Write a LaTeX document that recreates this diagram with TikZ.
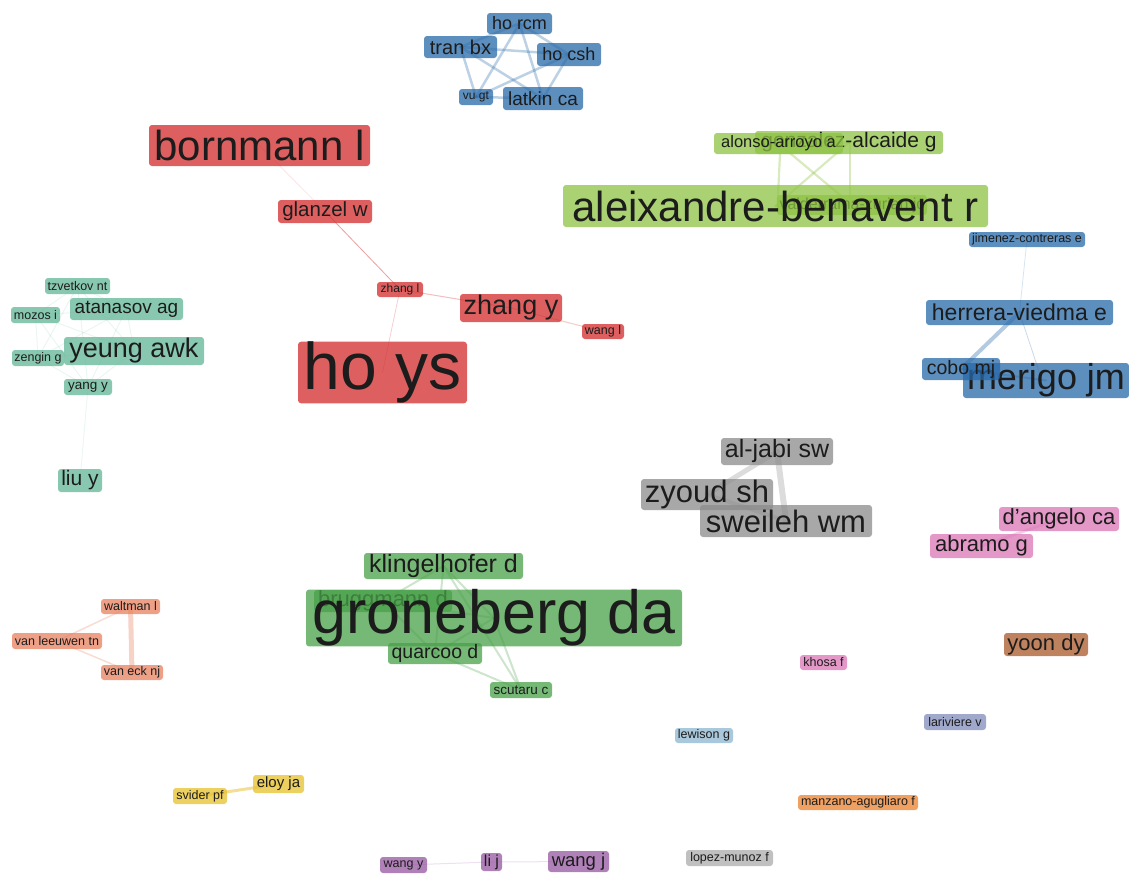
\documentclass[tikz,border=0pt]{standalone}
\usepackage{fontspec}
\setmainfont{Liberation Sans}
\usetikzlibrary{backgrounds}
\definecolor{cblue}{RGB}{38,104,168}
\definecolor{cred}{RGB}{211,42,42}
\definecolor{clgreen}{RGB}{142,195,68}
\definecolor{cteal}{RGB}{96,182,150}
\definecolor{cgray}{RGB}{139,139,139}
\definecolor{cpink}{RGB}{219,118,182}
\definecolor{cbrown}{RGB}{168,88,42}
\definecolor{cgreen}{RGB}{72,160,72}
\definecolor{csalmon}{RGB}{232,128,95}
\definecolor{cyellow}{RGB}{230,192,43}
\definecolor{cpurple}{RGB}{150,86,160}
\definecolor{cltblue}{RGB}{142,182,208}
\definecolor{clav}{RGB}{128,139,187}
\definecolor{corange}{RGB}{235,128,43}
\definecolor{cltgray}{RGB}{171,171,171}
\definecolor{ctext}{RGB}{28,28,28}
\tikzset{
  vb/.style={rounded corners=3pt, inner sep=0pt, fill opacity=0.75, text opacity=1, text=ctext},
  fs/.style={font=\fontsize{#1}{#1}\selectfont},
  ed/.style={line width=#1, line cap=round},
}
\begin{document}
\begin{tikzpicture}[x=1pt,y=-1pt]
\useasboundingbox (0,0) rectangle (1129,876);

% ---- top blue cluster
\node[vb, fill=cblue, minimum width=65, minimum height=21, fs=18] (horcm) at (519.5,23.5) {ho rcm};
\node[vb, fill=cblue, minimum width=73, minimum height=22, fs=20] (tranbx) at (460.5,47) {tran bx};
\node[vb, fill=cblue, minimum width=64, minimum height=23, fs=18] (hocsh) at (569,54.5) {ho csh};
\node[vb, fill=cblue, minimum width=34, minimum height=16, fs=12] (vugt) at (476,97) {vu gt};
\node[vb, fill=cblue, minimum width=80, minimum height=23, fs=19] (latkin) at (543,98.5) {latkin ca};

% ---- top light green cluster
\node[vb, fill=clgreen, minimum width=188, minimum height=23, fs=21] (gonzalez) at (849,142.5) {gonzalez-alcaide g};
\node[vb, fill=clgreen, minimum width=129, minimum height=21, fs=16.5] (alonso) at (778.5,143.5) {alonso-arroyo a};
\node[vb, fill=clgreen, minimum width=150, minimum height=20, fs=16] (valder) at (852,205) {valderrama-zurian jc};
\node[vb, fill=clgreen, minimum width=425, minimum height=42, fs=42] (aleix) at (775.5,206) {aleixandre-benavent r};

% ---- red cluster
\node[vb, fill=cred, minimum width=221, minimum height=41, fs=42] (bornmann) at (259.5,145.5) {bornmann l};
\node[vb, fill=cred, minimum width=94, minimum height=23, fs=20.5] (glanzel) at (325,211.5) {glanzel w};
\node[vb, fill=cred, minimum width=46, minimum height=15, fs=12] (zhangl) at (400,289.5) {zhang l};
\node[vb, fill=cred, minimum width=102, minimum height=28, fs=27] (zhangy) at (511,308) {zhang y};
\node[vb, fill=cred, minimum width=42, minimum height=15, fs=12.5] (wangl) at (603,331.5) {wang l};
\node[vb, fill=cred, minimum width=169, minimum height=61, fs=66] (hoys) at (382.5,372.5) {ho ys};

% ---- teal cluster
\node[vb, fill=cteal, minimum width=65, minimum height=16, fs=12.5] (tzvetkov) at (77.5,286) {tzvetkov nt};
\node[vb, fill=cteal, minimum width=113, minimum height=22, fs=19] (atanasov) at (126.5,309) {atanasov ag};
\node[vb, fill=cteal, minimum width=49, minimum height=16, fs=12.5] (mozos) at (35.5,315) {mozos i};
\node[vb, fill=cteal, minimum width=140, minimum height=28, fs=27] (yeung) at (134,351) {yeung awk};
\node[vb, fill=cteal, minimum width=52, minimum height=16, fs=12.5] (zengin) at (38,358) {zengin g};
\node[vb, fill=cteal, minimum width=48, minimum height=16, fs=13.5] (yangy) at (88,387) {yang y};
\node[vb, fill=cteal, minimum width=44, minimum height=23, fs=21] (liuy) at (80,480.5) {liu y};

% ---- right blue cluster
\node[vb, fill=cblue, minimum width=116, minimum height=15, fs=12.5] (jimenez) at (1027,239.5) {jimenez-contreras e};
\node[vb, fill=cblue, minimum width=187, minimum height=25, fs=23] (herrera) at (1019.5,312.5) {herrera-viedma e};
\node[vb, fill=cblue, minimum width=166, minimum height=35, fs=36] (merigo) at (1046,380.5) {merigo jm};
\node[vb, fill=cblue, minimum width=78, minimum height=22, fs=19.5] (cobo) at (961,369) {cobo mj};

% ---- gray cluster
\node[vb, fill=cgray, minimum width=112, minimum height=27, fs=25] (aljabi) at (777,451.5) {al-jabi sw};
\node[vb, fill=cgray, minimum width=132, minimum height=31, fs=31] (zyoud) at (707,494.5) {zyoud sh};
\node[vb, fill=cgray, minimum width=172, minimum height=32, fs=31] (sweileh) at (786,521) {sweileh wm};

% ---- pink / brown
\node[vb, fill=cpink, minimum width=120, minimum height=24, fs=22] (dangelo) at (1059,519) {d'angelo ca};
\node[vb, fill=cpink, minimum width=103, minimum height=24, fs=22] (abramo) at (981.5,546) {abramo g};
\node[vb, fill=cbrown, minimum width=84, minimum height=23, fs=22] (yoon) at (1046,644.5) {yoon dy};
\node[vb, fill=cpink, minimum width=47, minimum height=15, fs=12.5] (khosa) at (823.5,662.5) {khosa f};

% ---- bottom green cluster
\node[vb, fill=cgreen, minimum width=159, minimum height=26, fs=25] (kling) at (443.5,566) {klingelhofer d};
\node[vb, fill=cgreen, minimum width=138, minimum height=22, fs=22] (brugg) at (383,601) {bruggmann d};
\node[vb, fill=cgreen, minimum width=376, minimum height=56, fs=61] (groneberg) at (494,618) {groneberg da};
\node[vb, fill=cgreen, minimum width=94, minimum height=21, fs=19.5] (quarcoo) at (435,653.5) {quarcoo d};
\node[vb, fill=cgreen, minimum width=62, minimum height=16, fs=13.5] (scutaru) at (521,690) {scutaru c};

% ---- orange cluster
\node[vb, fill=csalmon, minimum width=59, minimum height=15, fs=12.5] (waltman) at (130.5,606.5) {waltman l};
\node[vb, fill=csalmon, minimum width=90, minimum height=16, fs=12.5] (leeuwen) at (57,641) {van leeuwen tn};
\node[vb, fill=csalmon, minimum width=62, minimum height=15, fs=12.5] (vaneck) at (132,672.5) {van eck nj};

% ---- yellow / purple
\node[vb, fill=cyellow, minimum width=51, minimum height=18, fs=15] (eloy) at (278.5,784) {eloy ja};
\node[vb, fill=cyellow, minimum width=54, minimum height=16, fs=12.5] (svider) at (200,796) {svider pf};
\node[vb, fill=cpurple, minimum width=47, minimum height=16, fs=12.5] (wangy) at (403.5,865) {wang y};
\node[vb, fill=cpurple, minimum width=21, minimum height=18, fs=16] (lij) at (491.5,862) {li j};
\node[vb, fill=cpurple, minimum width=61, minimum height=21, fs=18.5] (wangj) at (578.5,861.5) {wang j};

% ---- singles
\node[vb, fill=cltblue, minimum width=58, minimum height=15, fs=12.5] (lewison) at (704,735.5) {lewison g};
\node[vb, fill=clav, minimum width=62, minimum height=16, fs=12.5] (lariviere) at (955,722) {lariviere v};
\node[vb, fill=corange, minimum width=120, minimum height=15, fs=12.5] (manzano) at (858,802.5) {manzano-agugliaro f};
\node[vb, fill=cltgray, minimum width=87, minimum height=16, fs=12.5] (lopez) at (729.5,858) {lopez-munoz f};

% ================= edges
\begin{pgfonlayer}{background}
\begin{scope}[draw=cblue, draw opacity=0.3]
\foreach \a/\b in {horcm/tranbx,horcm/hocsh,horcm/vugt,horcm/latkin,tranbx/hocsh,tranbx/vugt,tranbx/latkin,hocsh/vugt,hocsh/latkin,vugt/latkin}
  \draw[ed=2.5] (\a.center) -- (\b.center);
\end{scope}
\begin{scope}[draw=clgreen, draw opacity=0.35]
\foreach \a/\b in {alonso/gonzalez,alonso/valder,gonzalez/aleix,valder/aleix}
  \draw[ed=2.2] (\a.center) -- (\b.center);
\draw[ed=2.2] ([xshift=2]alonso.center) -- ([xshift=2]aleix.center);
\draw[ed=2.2] ([xshift=1]gonzalez.center) -- ([xshift=-2]valder.center);
\end{scope}
\draw[ed=0.8, draw=cred, draw opacity=0.12] (bornmann.center) -- (glanzel.center);
\draw[ed=0.8, draw=cred, draw opacity=0.45] (glanzel.center) -- (zhangl.center);
\draw[ed=0.8, draw=cred, draw opacity=0.22] (zhangl.center) -- (hoys.center);
\draw[ed=1, draw=cred, draw opacity=0.3] (zhangl.center) -- (zhangy.center);
\draw[ed=1, draw=cred, draw opacity=0.25] (zhangy.center) -- (wangl.center);
\begin{scope}[draw=cteal, draw opacity=0.13]
\foreach \a/\b in {tzvetkov/atanasov,tzvetkov/mozos,tzvetkov/yeung,tzvetkov/zengin,tzvetkov/yangy,atanasov/mozos,atanasov/yeung,atanasov/zengin,atanasov/yangy,mozos/yeung,mozos/zengin,mozos/yangy,yeung/zengin,yeung/yangy,zengin/yangy}
  \draw[ed=1] (\a.center) -- (\b.center);
\draw[ed=1, draw opacity=0.12] (yangy.center) -- (liuy.center);
\end{scope}
\draw[ed=0.8, draw=cblue, draw opacity=0.18] (jimenez.center) -- (herrera.center);
\draw[ed=0.8, draw=cblue, draw opacity=0.25] (herrera.center) -- ([xshift=-4]merigo.center);
\draw[ed=4, draw=cblue, draw opacity=0.35] (herrera.center) -- (cobo.center);
\draw[ed=2, draw=cblue, draw opacity=0.3] (cobo.center) -- (merigo.center);
\begin{scope}[draw=cgray, draw opacity=0.3]
\draw[ed=5] (aljabi.center) -- (zyoud.center);
\draw[ed=6] (aljabi.center) -- (sweileh.center);
\draw[ed=4] (zyoud.center) -- (sweileh.center);
\end{scope}
\draw[ed=3, draw=cpink, draw opacity=0.35] (dangelo.center) -- (abramo.center);
\begin{scope}[draw=cgreen, draw opacity=0.28]
\foreach \a/\b in {kling/brugg,kling/groneberg,kling/quarcoo,kling/scutaru,quarcoo/scutaru,groneberg/scutaru,brugg/quarcoo,brugg/groneberg,groneberg/quarcoo}
  \draw[ed=2] (\a.center) -- (\b.center);
\end{scope}
\draw[ed=5, draw=csalmon, draw opacity=0.35] (waltman.center) -- (vaneck.center);
\draw[ed=1.5, draw=csalmon, draw opacity=0.28] (leeuwen.center) -- (waltman.center);
\draw[ed=1.5, draw=csalmon, draw opacity=0.28] (leeuwen.center) -- (vaneck.center);
\draw[ed=3, draw=cyellow, draw opacity=0.5] (svider.center) -- (eloy.center);
\draw[ed=1, draw=cpurple, draw opacity=0.18] (wangy.center) -- (lij.center);
\draw[ed=1, draw=cpurple, draw opacity=0.18] (lij.center) -- (wangj.center);
\end{pgfonlayer}
\end{tikzpicture}
\end{document}
